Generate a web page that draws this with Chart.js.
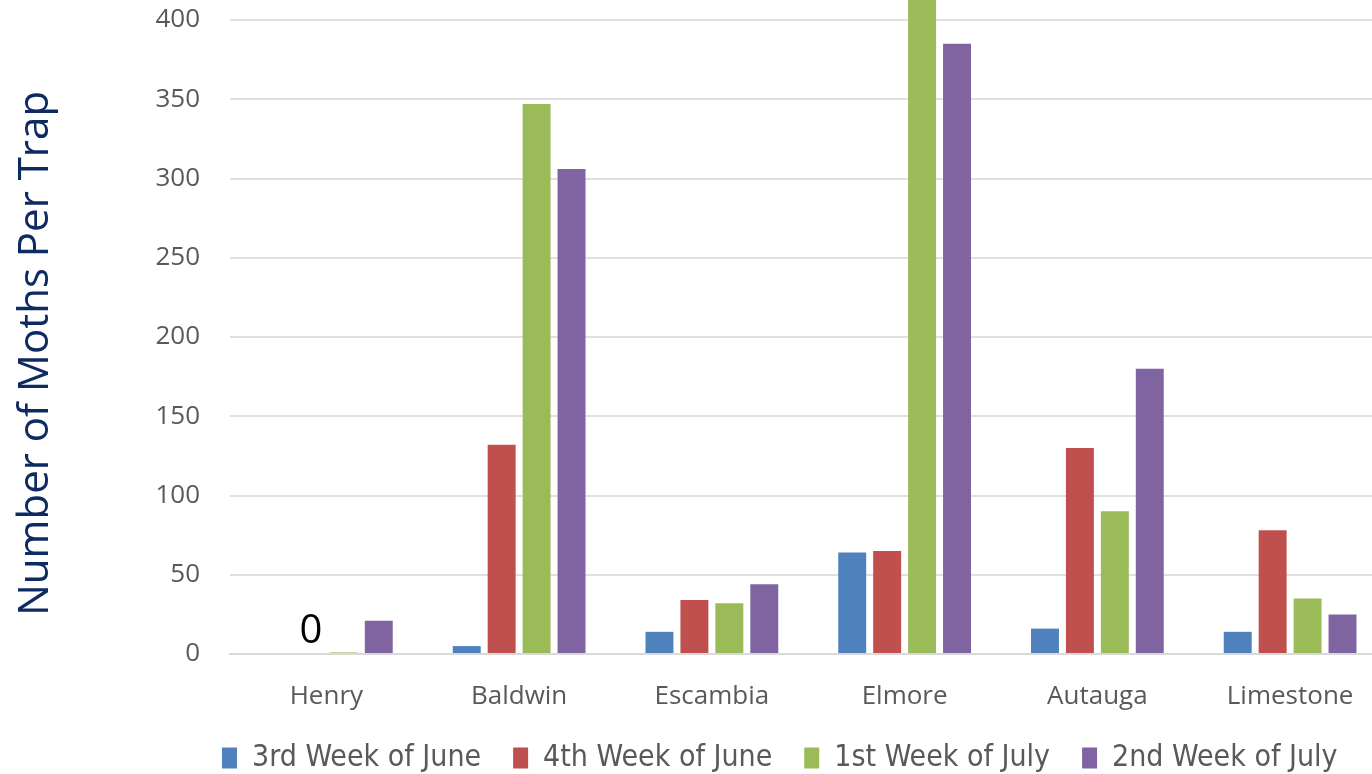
<!DOCTYPE html>
<html>
<head>
<meta charset="utf-8">
<script src="https://cdn.jsdelivr.net/npm/chart.js@4/dist/chart.umd.min.js"></script>
<style>
  html, body { margin: 0; padding: 0; overflow: hidden; background: #fff; }
  #wrap { width: 1400px; height: 786px; }
</style>
</head>
<body>
<div id="wrap"><canvas id="chart"></canvas></div>
<script>
// counties along the x axis
const counties = ["Henry", "Baldwin", "Escambia", "Elmore", "Autauga", "Limestone"];

// moths per trap, one list per week
const week3June = [0, 5, 14, 64, 16, 14];
const week4June = [0, 132, 34, 65, 130, 78];
const week1July = [1, 347, 32, 430, 90, 35];
const week2July = [21, 306, 44, 385, 180, 25];

const seriesNames = ["3rd Week of June", "4th Week of June", "1st Week of July", "2nd Week of July"];
const seriesColors = ["#4F81BD", "#C0504D", "#9BBB59", "#8064A2"];

const yTicks = [0, 50, 100, 150, 200, 250, 300, 350, 400];

// the one data label shown in the chart (series index, county index)
const labelledPoint = {series: 1, index: 0};

const tickFont = {family: "'Open Sans', 'Noto Sans', sans-serif", size: 26};

// draws the "0" value label
const pointLabel = {
    id: "pointLabel",
    afterDatasetsDraw(chart) {
        const meta = chart.getDatasetMeta(labelledPoint.series);
        const bar = meta.data[labelledPoint.index];
        if (!bar) return;
        const value = chart.data.datasets[labelledPoint.series].data[labelledPoint.index];
        const ctx = chart.ctx;
        ctx.save();
        ctx.font = "40px 'Open Sans', 'Noto Sans', sans-serif";
        ctx.fillStyle = "#000";
        ctx.textAlign = "center";
        ctx.textBaseline = "alphabetic";
        ctx.fillText(String(value), bar.x + 2, bar.y - 11);
        ctx.restore();
    }
};

// the legend sits centred on the full original picture, not on the canvas
const legendShift = {
    id: "legendShift",
    afterLayout(chart) {
        const lg = chart.legend;
        if (!lg) return;
        lg.left += 82;
        lg.right += 82;
        lg.top -= 3;
        lg.bottom -= 3;
    }
};

new Chart(document.getElementById("chart"), {
    type: "bar",
    data: {
        labels: counties,
        datasets: [week3June, week4June, week1July, week2July].map((d, i) => ({
            label: seriesNames[i],
            data: d,
            backgroundColor: seriesColors[i],
            borderWidth: 0,
            categoryPercentage: 0.725,
            barPercentage: 0.8,
            clip: false
        }))
    },
    options: {
        responsive: true,
        maintainAspectRatio: false,
        animation: false,
        layout: {padding: {left: 9, right: 13.5, top: 20, bottom: 0}},
        plugins: {
            legend: {
                position: "bottom",
                labels: {
                    boxWidth: 15,
                    boxHeight: 21,
                    padding: 32,
                    color: "#595959",
                    font: {family: "'Liberation Sans Narrow', 'DejaVu Sans Condensed', sans-serif", size: 30}
                }
            },
            tooltip: {enabled: false}
        },
        scales: {
            x: {
                grid: {display: false, drawTicks: false},
                border: {color: "#d9d9d9", width: 2},
                ticks: {color: "#595959", font: tickFont, padding: 27},
                afterFit(scale) { scale.height = 60; }
            },
            y: {
                min: 0,
                max: 400,
                afterBuildTicks(scale) { scale.ticks = yTicks.map(v => ({value: v})); },
                grid: {color: "#e0e0e0", lineWidth: 2, drawTicks: false},
                border: {display: false},
                ticks: {color: "#595959", font: tickFont, padding: 30},
                title: {
                    display: true,
                    text: "Number of Moths Per Trap   ",
                    color: "#0E2A63",
                    font: {family: "'Open Sans', 'Noto Sans', sans-serif", size: 42},
                    padding: {top: 2, bottom: 4}
                },
                afterFit(scale) {
                    scale.width = 221;
                    scale.paddingTop = 0;
                    scale.paddingBottom = 0;
                }
            }
        }
    },
    plugins: [pointLabel, legendShift]
});
</script>
</body>
</html>
